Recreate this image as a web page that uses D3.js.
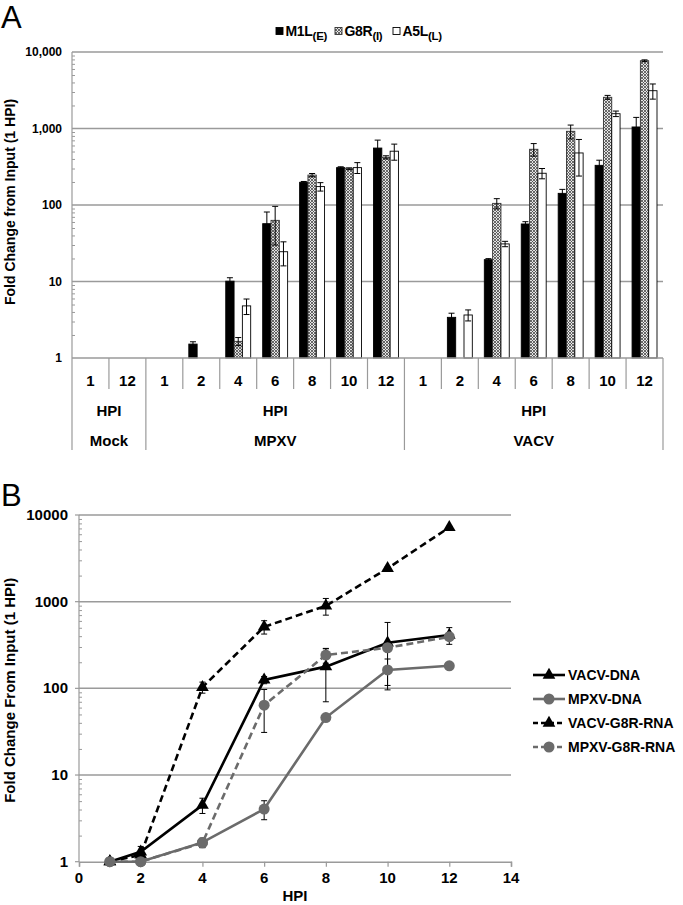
<!DOCTYPE html>
<html>
<head>
<meta charset="utf-8">
<script src="https://cdn.jsdelivr.net/npm/d3@7"></script>
<style>
  html, body { margin: 0; padding: 0; background: #fff; }
  svg { display: block; font-family: "Liberation Sans", Arial, sans-serif; }
</style>
</head>
<body>
<svg id="chart" width="683" height="905"></svg>
<script>
// ---------------- Panel A data ----------------
const categoriesA = ["1","12","1","2","4","6","8","10","12","1","2","4","6","8","10","12"];
const groupNames = ["Mock","MPXV","VACV"];
const groupSizes = [2, 7, 7];
const groupSubLabel = "HPI";
const seriesNamesA = ["M1L", "G8R", "A5L"];
const seriesSubsA = ["(E)", "(I)", "(L)"];
const m1l    = [null, null, null, 1.52, 10.1, 57, 198, 308, 555, null, 3.4, 19.3, 56.5, 142, 330, 1047];
const m1lErr = [0, 0, 0, 0.11, 1.1, 24, 5, 8, 150, 0, 0.45, 0.6, 4, 18, 55, 350];
const g8r    = [null, null, null, null, 1.65, 63, 246, 298, 420, null, null, 105, 535, 919, 2558, 7690];
const g8rErr = [0, 0, 0, 0, 0.2, 33, 12, 8, 20, 0, 0, 16, 100, 190, 150, 200];
const a5l    = [null, null, null, null, 4.8, 24.5, 174, 308, 505, null, 3.65, 31, 260, 479, 1561, 3120];
const a5lErr = [0, 0, 0, 0, 1.1, 8.5, 22, 50, 120, 0, 0.6, 2.5, 40, 240, 130, 700];
const yTicksA = [1, 10, 100, 1000, 10000];
const yTickLabelsA = ["1", "10", "100", "1,000", "10,000"];

// ---------------- Panel B data ----------------
const hpi = [1, 2, 4, 6, 8, 10, 12];
const vacvDNA    = [1, 1.3, 4.5, 125, 178, 336, 412];
const vacvDNAErr = [0, 0.2, 0.9, 12, 108, 240, 90];
const mpxvDNA    = [1, 1, 1.67, 4.05, 46, 163, 182];
const mpxvDNAErr = [0, 0, 0.2, 1.0, 3, 55, 0];
const vacvRNA    = [1, 1.2, 103, 513, 894, 2420, 7200];
const vacvRNAErr = [0, 0, 15, 90, 195, 100, 150];
const mpxvRNA    = [1, 1, 1.65, 64, 242, 294, 394];
const mpxvRNAErr = [0, 0, 0.2, 33, 47, 8, 10];
const seriesNamesB = ["VACV-DNA", "MPXV-DNA", "VACV-G8R-RNA", "MPXV-G8R-RNA"];
const xTicksB = [0, 2, 4, 6, 8, 10, 12, 14];
const yTicksB = [1, 10, 100, 1000, 10000];

// ---------------- Drawing ----------------
const svg = d3.select("#chart");
const GRID = "#9a9a9a";
const GRAY = "#6b6b6b";

const defs = svg.append("defs");
const pat = defs.append("pattern").attr("id", "check")
  .attr("patternUnits", "userSpaceOnUse").attr("width", 3).attr("height", 3);
pat.append("rect").attr("width", 3).attr("height", 3).attr("fill", "#e4e4e4");
pat.append("path").attr("d", "M0,0L3,3M3,0L0,3M-1,1L1,-1M2,4L4,2")
  .attr("stroke", "#4a4a4a").attr("stroke-width", 0.8);

// ===== Panel A =====
const A = { left: 72, right: 663, top: 52, bottom: 358 };
svg.append("text").attr("x", 1).attr("y", 28).attr("font-size", 31).text("A");

const yA = d3.scaleLog().domain([1, 10000]).range([A.bottom, A.top]);
const xA = d3.scaleBand().domain(d3.range(categoriesA.length)).range([A.left, A.right]).paddingInner(0).paddingOuter(0);

const gA = svg.append("g");
gA.selectAll("line.grid").data(yTicksA.slice(1)).join("line")
  .attr("x1", A.left).attr("x2", A.right)
  .attr("y1", d => yA(d)).attr("y2", d => yA(d))
  .attr("stroke", GRID).attr("stroke-width", 1.5);
const yAxisA = d3.axisRight(yA).tickValues(
  d3.range(0, 4).flatMap(k => d3.range(2, 10).map(m => m * Math.pow(10, k)))
).tickSize(3).tickFormat("");
const axA = gA.append("g").attr("transform", `translate(${A.left},0)`).call(yAxisA);
axA.selectAll("line").attr("stroke", GRID);
axA.select(".domain").remove();
gA.append("line").attr("x1", A.left).attr("x2", A.left).attr("y1", A.top).attr("y2", A.bottom)
  .attr("stroke", GRID).attr("stroke-width", 1.2);
gA.selectAll("text.yt").data(yTicksA).join("text")
  .attr("x", 62).attr("y", d => yA(d) + 4)
  .attr("text-anchor", "end").attr("font-size", 12).attr("font-weight", "bold")
  .text((d, i) => yTickLabelsA[i]);
svg.append("text")
  .attr("transform", `translate(15,${(A.top + A.bottom) / 2 - 3}) rotate(-90)`)
  .attr("text-anchor", "middle").attr("font-size", 14).attr("font-weight", "bold")
  .text("Fold Change from Input (1 HPI)");

const bw = xA.bandwidth() * 0.225;
const off = (xA.bandwidth() - 3 * bw) / 2;
const seriesA = [
  { vals: m1l, err: m1lErr, fill: "#000", stroke: "#000" },
  { vals: g8r, err: g8rErr, fill: "url(#check)", stroke: "#333" },
  { vals: a5l, err: a5lErr, fill: "#fff", stroke: "#000" }
];
seriesA.forEach((s, si) => {
  const data = s.vals.map((v, i) => ({ v, e: s.err[i], i })).filter(d => d.v != null);
  gA.selectAll(null).data(data).join("rect")
    .attr("x", d => xA(d.i) + off + si * bw)
    .attr("width", bw)
    .attr("y", d => yA(d.v))
    .attr("height", d => yA(1) - yA(d.v))
    .attr("fill", s.fill).attr("stroke", s.stroke).attr("stroke-width", 0.9);
});
seriesA.forEach((s, si) => {
  const data = s.vals.map((v, i) => ({ v, e: s.err[i], i })).filter(d => d.v != null && d.e > 0);
  const eg = gA.selectAll(null).data(data).join("g")
    .attr("transform", d => `translate(${xA(d.i) + off + si * bw + bw / 2},0)`);
  eg.append("line").attr("y1", d => yA(d.v + d.e)).attr("y2", d => yA(Math.max(1, d.v - d.e)))
    .attr("stroke", "#000").attr("stroke-width", 1);
  eg.append("line").attr("x1", -3).attr("x2", 3).attr("y1", d => yA(d.v + d.e)).attr("y2", d => yA(d.v + d.e))
    .attr("stroke", "#000").attr("stroke-width", 1);
  eg.append("line").attr("x1", -3).attr("x2", 3).attr("y1", d => yA(Math.max(1, d.v - d.e))).attr("y2", d => yA(Math.max(1, d.v - d.e)))
    .attr("stroke", "#000").attr("stroke-width", 1);
});

gA.append("line").attr("x1", A.left).attr("x2", A.right).attr("y1", A.bottom).attr("y2", A.bottom)
  .attr("stroke", GRID).attr("stroke-width", 1.5);
const groupStarts = groupSizes.map((n, i) => d3.sum(groupSizes.slice(0, i)));
const boundaryIdx = new Set([...groupStarts, categoriesA.length]);
d3.range(categoriesA.length + 1).forEach(i => {
  const x = i < categoriesA.length ? xA(i) : A.right;
  gA.append("line").attr("x1", x).attr("x2", x)
    .attr("y1", A.bottom).attr("y2", boundaryIdx.has(i) ? 450 : 389)
    .attr("stroke", GRID).attr("stroke-width", 1.2);
});
gA.selectAll("text.cat").data(categoriesA).join("text")
  .attr("x", (d, i) => xA(i) + xA.bandwidth() / 2).attr("y", 386)
  .attr("text-anchor", "middle").attr("font-size", 15).attr("font-weight", "bold")
  .text(d => d);
groupNames.forEach((g, gi) => {
  const x0 = xA(groupStarts[gi]);
  const x1 = gi + 1 < groupNames.length ? xA(groupStarts[gi + 1]) : A.right;
  const cx = (x0 + x1) / 2;
  gA.append("text").attr("x", cx).attr("y", 416).attr("text-anchor", "middle")
    .attr("font-size", 15).attr("font-weight", "bold").text(groupSubLabel);
  gA.append("text").attr("x", cx).attr("y", 446).attr("text-anchor", "middle")
    .attr("font-size", 15).attr("font-weight", "bold").text(g);
});

// legend A
const legA = [
  { x: 276, fill: "#000", stroke: "#000" },
  { x: 335, fill: "url(#check)", stroke: "#333" },
  { x: 393, fill: "#fff", stroke: "#000" }
];
legA.forEach((l, i) => {
  svg.append("rect").attr("x", l.x).attr("y", 27.5).attr("width", 7).attr("height", 7)
    .attr("fill", l.fill).attr("stroke", l.stroke).attr("stroke-width", 0.9);
  const t = svg.append("text").attr("x", l.x + 9.5).attr("y", 36)
    .attr("font-size", 14).attr("font-weight", "bold").attr("letter-spacing", -0.3);
  t.append("tspan").text(seriesNamesA[i]);
  t.append("tspan").attr("dy", 4).attr("font-size", 11.5).text(seriesSubsA[i]);
});

// ===== Panel B =====
const B = { left: 79, right: 511, top: 515, bottom: 861.7 };
svg.append("text").attr("x", 1).attr("y", 506).attr("font-size", 31).text("B");

const xB = d3.scaleLinear().domain([0, 14]).range([B.left, B.right]);
const yB = d3.scaleLog().domain([1, 10000]).range([B.bottom, B.top]);
const gB = svg.append("g");

gB.selectAll("line.grid").data(yTicksB.slice(1)).join("line")
  .attr("x1", B.left).attr("x2", B.right)
  .attr("y1", d => yB(d)).attr("y2", d => yB(d))
  .attr("stroke", GRID).attr("stroke-width", 1.5);
const yAxisB = d3.axisRight(yB).tickValues(
  d3.range(0, 4).flatMap(k => d3.range(2, 10).map(m => m * Math.pow(10, k)))
).tickSize(3).tickFormat("");
const axB = gB.append("g").attr("transform", `translate(${B.left},0)`).call(yAxisB);
axB.selectAll("line").attr("stroke", GRID);
axB.select(".domain").remove();
gB.append("line").attr("x1", B.left).attr("x2", B.left).attr("y1", B.top).attr("y2", B.bottom)
  .attr("stroke", GRID).attr("stroke-width", 1.2);
gB.selectAll("line.ymaj").data(yTicksB).join("line")
  .attr("x1", B.left - 4).attr("x2", B.left).attr("y1", d => yB(d)).attr("y2", d => yB(d))
  .attr("stroke", GRID).attr("stroke-width", 1.2);
gB.selectAll("text.yt").data(yTicksB).join("text")
  .attr("x", 68).attr("y", d => yB(d) + 5)
  .attr("text-anchor", "end").attr("font-size", 15).attr("font-weight", "bold")
  .text(d => d);
const xAxisB = d3.axisBottom(xB).tickValues(xTicksB).tickSize(5).tickFormat("");
const axXB = gB.append("g").attr("transform", `translate(0,${B.bottom})`).call(xAxisB);
axXB.selectAll("line").attr("stroke", GRID).attr("stroke-width", 1.2);
axXB.select(".domain").attr("stroke", GRID).attr("stroke-width", 1.5);
gB.selectAll("text.xt").data(xTicksB).join("text")
  .attr("x", d => xB(d)).attr("y", 883)
  .attr("text-anchor", "middle").attr("font-size", 15).attr("font-weight", "bold")
  .text(d => d);
svg.append("text").attr("x", (B.left + B.right) / 2).attr("y", 901)
  .attr("text-anchor", "middle").attr("font-size", 15).attr("font-weight", "bold").text("HPI");
svg.append("text")
  .attr("transform", `translate(15,${(B.top + B.bottom) / 2 + 2}) rotate(-90)`)
  .attr("text-anchor", "middle").attr("font-size", 15).attr("font-weight", "bold")
  .text("Fold Change From Input (1 HPI)");

const seriesB = [
  { vals: vacvDNA, err: vacvDNAErr, color: "#000", dash: null, marker: "tri" },
  { vals: mpxvDNA, err: mpxvDNAErr, color: GRAY, dash: null, marker: "circ" },
  { vals: vacvRNA, err: vacvRNAErr, color: "#000", dash: "7,4", marker: "tri" },
  { vals: mpxvRNA, err: mpxvRNAErr, color: GRAY, dash: "7,4", marker: "circ" }
];
const line = d3.line().x(d => xB(d.x)).y(d => yB(d.y));
const triSym = d3.symbol().type(d3.symbolTriangle).size(70);
function drawMarker(g, type, color) {
  if (type === "tri") g.append("path").attr("d", triSym()).attr("fill", "#000");
  else g.append("circle").attr("r", 5.5).attr("fill", color);
}
seriesB.forEach(s => {
  const data = hpi.map((x, i) => ({ x, y: s.vals[i], e: s.err[i] })).filter(d => d.e > 0);
  const eg = gB.selectAll(null).data(data).join("g").attr("transform", d => `translate(${xB(d.x)},0)`);
  eg.append("line").attr("y1", d => yB(d.y + d.e)).attr("y2", d => yB(Math.max(1, d.y - d.e)))
    .attr("stroke", "#000").attr("stroke-width", 1);
  [d => yB(d.y + d.e), d => yB(Math.max(1, d.y - d.e))].forEach(fy => {
    eg.append("line").attr("x1", -3).attr("x2", 3).attr("y1", fy).attr("y2", fy)
      .attr("stroke", "#000").attr("stroke-width", 1);
  });
});
seriesB.forEach(s => {
  const data = hpi.map((x, i) => ({ x, y: s.vals[i] }));
  gB.append("path").datum(data).attr("d", line)
    .attr("fill", "none").attr("stroke", s.color).attr("stroke-width", 2.6)
    .attr("stroke-dasharray", s.dash);
  data.forEach(d => {
    const mg = gB.append("g").attr("transform", `translate(${xB(d.x)},${yB(d.y)})`);
    drawMarker(mg, s.marker, s.color);
  });
});

const legB = svg.append("g");
seriesB.forEach((s, i) => {
  const y = 675 + i * 24;
  legB.append("line").attr("x1", 533).attr("x2", 565).attr("y1", y).attr("y2", y)
    .attr("stroke", s.color).attr("stroke-width", 2.6).attr("stroke-dasharray", s.dash ? "5,3" : null);
  const mg = legB.append("g").attr("transform", `translate(549,${y})`);
  drawMarker(mg, s.marker, s.color);
  legB.append("text").attr("x", 568).attr("y", y + 5)
    .attr("font-size", 14).attr("font-weight", "bold").text(seriesNamesB[i]);
});
</script>
</body>
</html>
